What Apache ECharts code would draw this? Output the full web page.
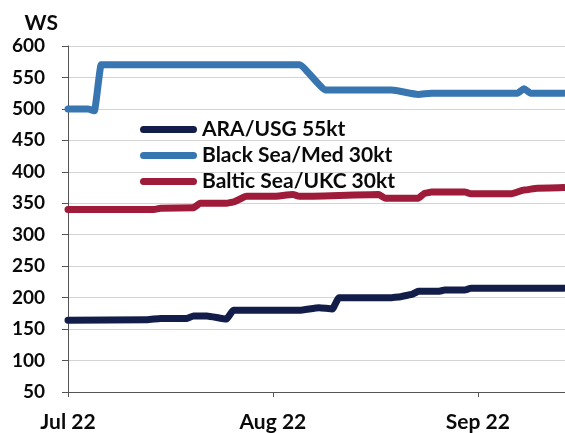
<!DOCTYPE html>
<html>
<head>
<meta charset="utf-8">
<script src="https://cdn.jsdelivr.net/npm/echarts@6/dist/echarts.min.js"></script>
<style>
  html, body { margin: 0; padding: 0; background: #fff; }
  #main { width: 565px; height: 433px; }
</style>
</head>
<body>
<div id="main"></div>
<script>
// series names
var seriesNames = ['ARA/USG 55kt', 'Black Sea/Med 30kt', 'Baltic Sea/UKC 30kt'];
// x tick labels (month starts)
var xTickLabels = ['Jul 22', 'Aug 22', 'Sep 22'];

// WS values by date
var araUsg = [
    ['2022-07-01', 164], ['2022-07-13', 165], ['2022-07-15', 167], ['2022-07-19', 167],
    ['2022-07-20', 171], ['2022-07-22', 171], ['2022-07-25', 166], ['2022-07-26', 180],
    ['2022-08-05', 180], ['2022-08-08', 184], ['2022-08-10', 182], ['2022-08-11', 200],
    ['2022-08-19', 200], ['2022-08-20', 201], ['2022-08-22', 205], ['2022-08-23', 210],
    ['2022-08-26', 210], ['2022-08-27', 212], ['2022-08-30', 212], ['2022-08-31', 215],
    ['2022-09-14', 215]
];
var blackSeaMed = [
    ['2022-07-01', 500], ['2022-07-04', 500], ['2022-07-05', 497], ['2022-07-06', 570],
    ['2022-08-05', 570], ['2022-08-09', 530], ['2022-08-19', 530], ['2022-08-23', 523],
    ['2022-08-25', 525], ['2022-09-07', 525], ['2022-09-08', 532], ['2022-09-09', 525],
    ['2022-09-14', 525]
];
var balticUkc = [
    ['2022-07-01', 340], ['2022-07-14', 340], ['2022-07-15', 342], ['2022-07-20', 343],
    ['2022-07-21', 350], ['2022-07-25', 350], ['2022-07-26', 352], ['2022-07-28', 361],
    ['2022-08-01', 361], ['2022-08-04', 364], ['2022-08-05', 361], ['2022-08-17', 364],
    ['2022-08-18', 358], ['2022-08-23', 358], ['2022-08-24', 366], ['2022-08-25', 368],
    ['2022-08-30', 368], ['2022-08-31', 365], ['2022-09-06', 365], ['2022-09-08', 371],
    ['2022-09-10', 374], ['2022-09-14', 375]
];

var colors = ['#131d4a', '#3776b0', '#9e1b39'];

// 日期 -> 距 7月1日 的天数
var startDate = Date.parse('2022-07-01T00:00:00Z');
function toDays(list) {
    var res = [];
    for (var i = 0; i < list.length; i++) {
        var d = (Date.parse(list[i][0] + 'T00:00:00Z') - startDate) / 86400000;
        res.push([d, list[i][1]]);
    }
    return res;
}

var chart = echarts.init(document.getElementById('main'));

function makeSeries(name, list, color) {
    return {
        name: name,
        type: 'line',
        data: toDays(list),
        symbol: 'none',
        smooth: 0.15,
        smoothMonotone: 'x',
        color: color,
        lineStyle: { width: 7, color: color, cap: 'round', join: 'round' }
    };
}

var font = 'Lato, "DejaVu Sans", sans-serif';
// 图例的圆头线条
var capsule = 'path://M3.5,0 H53.5 A3.5,3.5 0 0 1 53.5,7 H3.5 A3.5,3.5 0 0 1 3.5,0 Z';

var option = {
    animation: false,
    grid: { left: 68, right: 0, top: 46, bottom: 39, containLabel: false },
    legend: {
        orient: 'vertical',
        left: 135,
        top: 114,
        icon: capsule,
        itemWidth: 57,
        itemHeight: 7,
        itemGap: 5,
        data: seriesNames,
        textStyle: { fontFamily: font, fontSize: 21, fontWeight: 'bold', color: '#0a0a0a' }
    },
    xAxis: {
        type: 'value',
        min: 0,
        max: 75.2,
        interval: 31,
        splitLine: { show: false },
        axisLine: { lineStyle: { color: '#555', width: 1 } },
        axisTick: { show: true, length: 5, lineStyle: { color: '#555' } },
        axisLabel: {
            margin: 20,
            fontFamily: font,
            fontSize: 21,
            fontWeight: 'bold',
            color: '#0a0a0a',
            showMaxLabel: false,
            formatter: function (v) {
                var idx = Math.round(v / 31);
                if (Math.abs(v - idx * 31) > 0.01) return '';
                return xTickLabels[idx] || '';
            }
        }
    },
    yAxis: {
        type: 'value',
        min: 50,
        max: 600,
        interval: 50,
        name: 'WS',
        nameLocation: 'end',
        nameGap: 12,
        nameTextStyle: {
            fontFamily: font, fontSize: 21, fontWeight: 'bold', color: '#0a0a0a',
            align: 'right', padding: [0, 10, 0, 0]
        },
        axisLine: { show: true, lineStyle: { color: '#555', width: 1 } },
        axisTick: { show: true, length: 6, lineStyle: { color: '#555' } },
        splitLine: { lineStyle: { color: '#d4d4d4', width: 1 } },
        axisLabel: {
            margin: 23,
            fontFamily: font,
            fontSize: 19,
            fontWeight: 'bold',
            color: '#0a0a0a'
        }
    },
    series: [
        makeSeries(seriesNames[0], araUsg, colors[0]),
        makeSeries(seriesNames[1], blackSeaMed, colors[1]),
        makeSeries(seriesNames[2], balticUkc, colors[2])
    ]
};

chart.setOption(option);
</script>
</body>
</html>
